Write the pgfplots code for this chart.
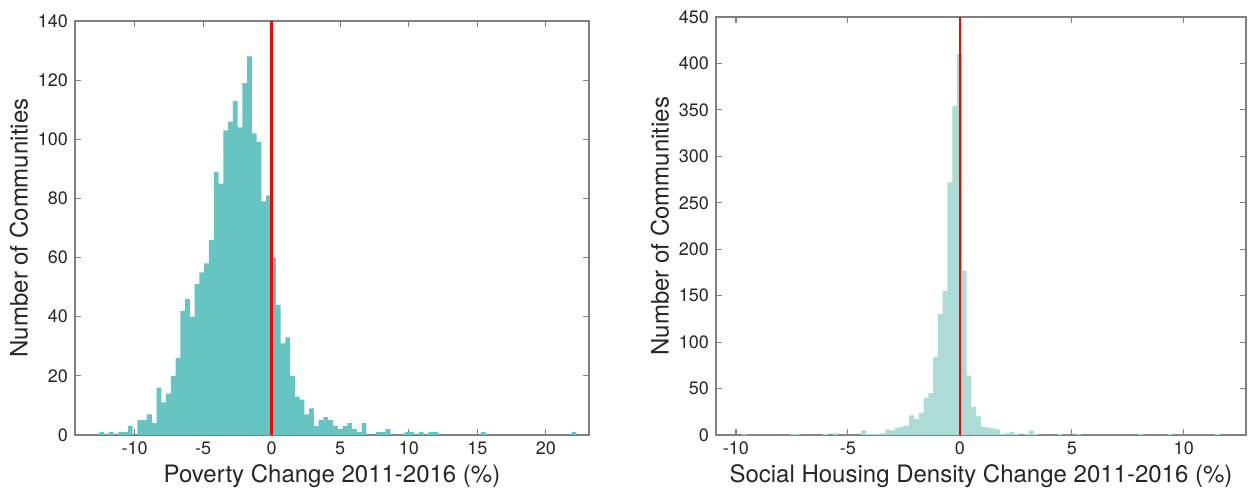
\documentclass[border=0pt]{standalone}
\usepackage{pgfplots}
\pgfplotsset{compat=1.18}
\usepackage{fontspec}
\setmainfont{TeX Gyre Heros}
\definecolor{tealA}{RGB}{102,196,194}
\definecolor{tealB}{RGB}{172,220,213}
\definecolor{axgray}{RGB}{128,128,128}
\definecolor{txt}{RGB}{38,38,38}
\pgfplotsset{
  mystyle/.style={
    scale only axis,
    anchor=south west,
    axis line style={axgray, line width=0.6pt},
    tick style={axgray, line width=0.6pt},
    major tick length=3pt,
    tick align=inside,
    tick pos=both,
    /pgf/number format/assume math mode=true,
    tick label style={font=\fontsize{9}{10}\selectfont, text=txt},
    label style={font=\fontsize{12}{14}\selectfont, text=txt},
    ylabel style={yshift=-2pt},
    xlabel style={yshift=2pt},
    ymin=0,
  }
}
\begin{document}
\begin{tikzpicture}
\useasboundingbox (0,0) rectangle (624.5pt,245.5pt);
\begin{axis}[mystyle,
  at={(37.5pt,28pt)}, width=257pt, height=207pt,
  xmin=-14.35, xmax=23.15, ymax=140,
  xtick={-10,-5,0,5,10,15,20}, ytick={0,20,40,60,80,100,120,140},
  xlabel={Poverty Change 2011-2016 (\%)},
  ylabel={Number of Communities},
]
\addplot[ybar interval, fill=tealA, draw=none] coordinates {
(-12.578,1) (-12.23,0) (-11.882,1) (-11.534,0) (-11.186,1) (-10.838,1) (-10.49,3) (-10.142,0)
(-9.794,5) (-9.446,5) (-9.098,7) (-8.75,4) (-8.402,16) (-8.054,11) (-7.706,14) (-7.358,20)
(-7.01,26) (-6.662,42) (-6.314,46) (-5.966,40) (-5.618,51) (-5.27,55) (-4.922,58) (-4.574,66)
(-4.226,89) (-3.878,85) (-3.53,103) (-3.182,106) (-2.834,113) (-2.486,104) (-2.138,119) (-1.79,128)
(-1.442,102) (-1.094,99) (-0.746,79) (-0.398,81) (-0.05,60) (0.298,44) (0.646,31) (0.994,33)
(1.342,20) (1.69,13) (2.038,12) (2.386,7) (2.734,9) (3.082,3) (3.43,5) (3.778,6)
(4.126,5) (4.474,3) (4.822,2) (5.17,3) (5.518,4) (5.866,2) (6.214,1) (6.562,4)
(6.91,0) (7.606,1) (7.954,1) (8.302,2) (8.65,0) (9.694,1) (10.042,1) (10.39,0)
(10.738,1) (11.086,0) (11.434,1) (11.782,1) (12.13,0) (15.262,1) (15.61,0) (21.874,1) (22.222,0)
};
\addplot[red, line width=1.3pt] coordinates {(0,0) (0,140)};
\end{axis}
\begin{axis}[mystyle,
  at={(358pt,28pt)}, width=265pt, height=209pt,
  xmin=-10.89, xmax=12.78, ymax=450,
  xtick={-10,-5,0,5,10}, ytick={0,50,100,150,200,250,300,350,400,450},
  xlabel={Social Housing Density Change 2011-2016 (\%)},
  ylabel={Number of Communities},
]
\addplot[ybar interval, fill=tealB, draw=none] coordinates {
(-9.7325,1) (-9.519,0) (-7.5975,1) (-7.384,1) (-7.1705,0) (-6.103,1) (-5.8895,0) (-5.676,2) (-5.4625,0)
(-4.395,5) (-4.1815,1) (-3.968,1) (-3.7545,1) (-3.541,2) (-3.3275,6) (-3.114,5) (-2.9005,8)
(-2.687,9) (-2.4735,10) (-2.26,21) (-2.0465,17) (-1.833,24) (-1.6195,40) (-1.406,45) (-1.1925,84)
(-0.979,130) (-0.7655,155) (-0.552,272) (-0.3385,354) (-0.125,410) (0.0885,177) (0.302,64) (0.5155,30)
(0.729,20) (0.9425,9) (1.156,8) (1.3695,7) (1.583,6) (1.7965,1) (2.01,2) (2.2235,3)
(2.437,1) (2.6505,0) (2.864,1) (3.0775,5) (3.291,1) (3.5045,0) (4.3585,1) (4.572,0)
(5.2125,1) (5.426,0) (7.988,1) (8.2015,0) (9.269,1) (9.4825,0) (11.404,1) (11.6175,0)
};
\addplot[red, line width=1.1pt] coordinates {(0,0) (0,450)};
\end{axis}
\end{tikzpicture}
\end{document}
